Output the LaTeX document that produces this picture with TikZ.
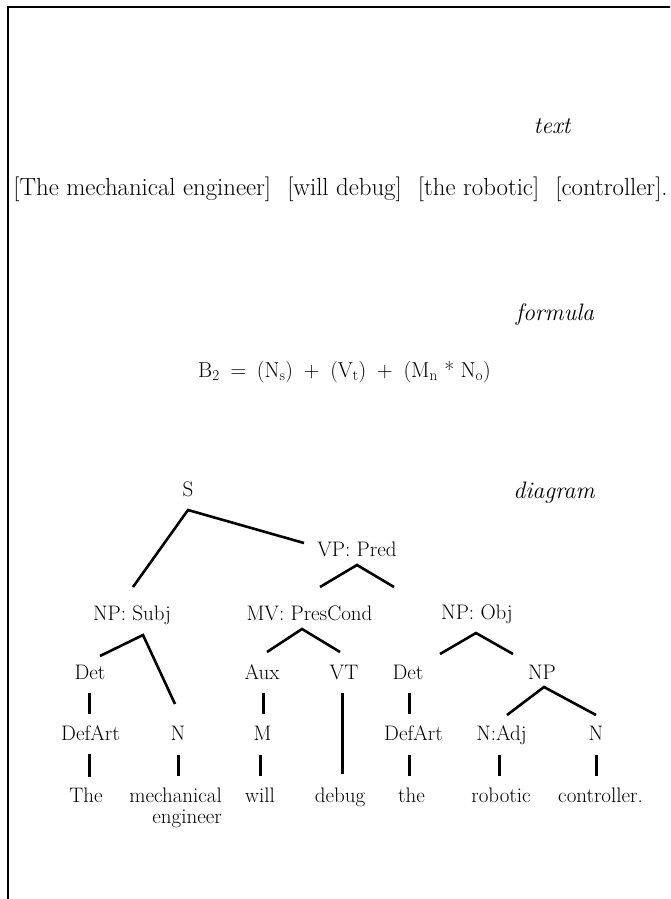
\documentclass[tikz,border=0pt]{standalone}
\usepackage{tikz}
\usetikzlibrary{calc}

\newcommand{\treefont}{\fontsize{21}{21}\selectfont}
\newcommand{\rowfont}{\fontsize{24.8}{28}\selectfont}
\newcommand{\formfont}{\fontsize{21.6}{25}\selectfont}
\newcommand{\tagfont}{\fontsize{23.8}{28}\selectfont\itshape}
\newcommand{\brgap}{\hspace{0.65em}}

\begin{document}
\begin{tikzpicture}[x=1pt,y=-1pt,
  lbl/.style={anchor=base,inner sep=0pt,font=\treefont},
  tag/.style={anchor=base,inner sep=0pt,font=\tagfont},
  branch/.style={line width=2.6pt},
  stem/.style={line width=3pt}]
\useasboundingbox (0,0) rectangle (670,899);
\fill[white] (0,0) rectangle (670,899);
\draw[line width=2.5pt] (8,899) -- (8,7) -- (670,7);

\node[tag] (tagText) at (552,133) {text};
\node[anchor=base,inner sep=0pt,font=\rowfont] (sentence) at (340.5,195)
  {[The mechanical engineer]\brgap[will debug]\brgap[the robotic]\brgap[controller].};

\node[tag] (tagFormula) at (555,320) {formula};
\node[anchor=base,inner sep=0pt,font=\formfont] (formula) at (344.5,377)
  {B\textsubscript{2}\enskip=\enskip(N\textsubscript{s})\enskip+\enskip(V\textsubscript{t})\enskip+\enskip(M\textsubscript{n} * N\textsubscript{o})};

\node[tag] (tagDiagram) at (554,498) {diagram};

\node[lbl] (S) at (188,496) {S};
\node[lbl] (vp) at (357,556) {VP: Pred};
\node[lbl] (npS) at (132,620) {NP: Subj};
\node[lbl] (mv) at (309.5,620) {MV: PresCond};
\node[lbl] (npO) at (477,619) {NP: Obj};
\node[lbl] (detL) at (90,679) {Det};
\node[lbl] (aux) at (262,679) {Aux};
\node[lbl] (vt) at (344,679) {VT};
\node[lbl] (detR) at (408,679) {Det};
\node[lbl] (npR) at (542,679) {NP};
\node[lbl] (artL) at (90.5,740) {DefArt};
\node[lbl] (nL) at (178,740) {N};
\node[lbl] (m) at (262.5,740) {M};
\node[lbl] (artR) at (413.5,740) {DefArt};
\node[lbl] (adj) at (501.5,740) {N:Adj};
\node[lbl] (nR) at (596,740) {N};
\node[lbl] (wThe) at (86,802) {The};
\node[lbl,align=right,anchor=base east] (wMech) at (222,823) {mechanical\\engineer};
\node[lbl] (wWill) at (260,802) {will};
\node[lbl] (wDebug) at (340,802) {debug};
\node[lbl] (wthe) at (411.5,802) {the};
\node[lbl] (wRobotic) at (501,802) {robotic};
\node[lbl] (wController) at (600.5,802) {controller.};

\draw[branch] ($(npS.base)+(1,-33)$) -- ($(S.base)+(0,14)$) -- ($(vp.base)+(-53,-13)$);
\draw[branch] ($(mv.base)+(10.5,-33)$) -- ($(vp.base)+(0,9)$) -- ($(npO.base)+(-83,-32)$);
\draw[branch] ($(detL.base)+(10,-23)$) -- ($(npS.base)+(11,15)$) -- ($(nL.base)+(-3,-36)$);
\draw[branch] ($(aux.base)+(5,-27)$) -- ($(mv.base)+(-7.5,9)$) -- ($(vt.base)+(-4,-27)$);
\draw[branch] ($(detR.base)+(32,-25)$) -- ($(npO.base)+(-1,14)$) -- ($(npR.base)+(-29,-25)$);
\draw[branch] ($(adj.base)+(5.5,-25)$) -- ($(npR.base)+(2,8)$) -- ($(nR.base)+(0,-25)$);

\draw[stem] ($(detL.base)+(-1,14)$) -- ($(artL.base)+(-1.5,-26)$);
\draw[stem] ($(artL.base)+(-1.5,14)$) -- ($(wThe.base)+(3,-25)$);
\draw[stem] ($(nL.base)+(0,15)$) -- ($(wMech.base east)+(-44,-47)$);
\draw[stem] ($(aux.base)+(1,14)$) -- ($(m.base)+(0.5,-26)$);
\draw[stem] ($(m.base)+(-2.5,15)$) -- ($(wWill.base)+(0,-26)$);
\draw[stem] ($(vt.base)+(-2,14)$) -- ($(wDebug.base)+(2,-28)$);
\draw[stem] ($(detR.base)+(1,14)$) -- ($(artR.base)+(-4.5,-26)$);
\draw[stem] ($(artR.base)+(-4.5,15)$) -- ($(wthe.base)+(-2.5,-26)$);
\draw[stem] ($(adj.base)+(-2.5,15)$) -- ($(wRobotic.base)+(-2,-26)$);
\draw[stem] ($(nR.base)+(0,15)$) -- ($(wController.base)+(-4.5,-26)$);
\end{tikzpicture}
\end{document}
